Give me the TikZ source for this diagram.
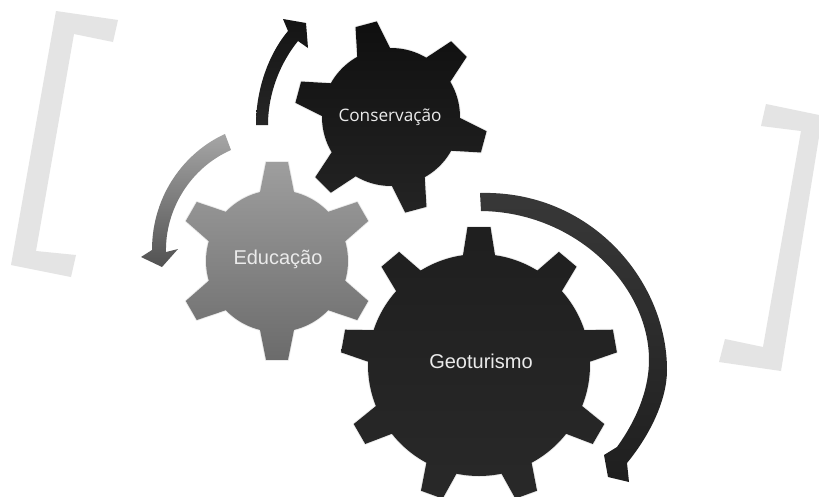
\documentclass[tikz,border=0pt]{standalone}
\usepackage{fontspec}
\setmainfont{Liberation Sans}
\newfontfamily\consfont{Open Sans}
\newcommand{\gearshape}[9]{%
  \pgfmathsetmacro\stp{360/#9}%
  \pgfmathsetmacro\ba{asin(#6/#4)}%
  \pgfmathsetmacro\ta{atan(#7/#5)}%
  \pgfmathsetmacro\tr{veclen(#5,#7)}%
  \begin{scope}[shift={(#2,#3)}]
    \path[#1] ({#8-\ba}:#4)
    \foreach \k [evaluate=\k as \a using #8+(\k-1)*\stp] in {1,...,#9} {
      -- ({\a-\ta}:\tr) -- ({\a+\ta}:\tr) -- ({\a+\ba}:#4)
      \foreach \j in {1,...,10} { -- ({\a+\ba+\j/10*(\stp-2*\ba)}:#4) }
    } -- cycle;
  \end{scope}}
\tikzset{
  halo/.style={preaction={draw=black,draw opacity=.08,line width=1.4pt,line join=round}},
  geardark/.style={halo,top color=black!88,bottom color=black!84},
  gearcons/.style={halo,top color=black!94,bottom color=black!86},
  gearedu/.style={halo,top color=black!38,bottom color=black!58},
  bandlight/.style={top color=black!35,bottom color=black!68},
  bandblack/.style={top color=black!92,bottom color=black!85},
  banddark/.style={top color=black!78,bottom color=black!88},
  bracket/.style={fill=black!10.5},
  gearlabel/.style={text=black!8,inner sep=0pt}
}
\begin{document}
\begin{tikzpicture}[x=0.75pt,y=-0.75pt]
\useasboundingbox (0,0) rectangle (819,497);
\fill[white] (0,0) rectangle (819,497);
% brackets
\fill[bracket] (56,11) -- (118,20) -- (113,42) -- (74,34) -- (36,251) -- (76,255) -- (71,277) -- (11,265) -- cycle;
\fill[bracket] (766,104) -- (819,115) -- (819,137) -- (781,371) -- (719,362) -- (725,339) -- (763,347) -- (801,131) -- (761,126) -- cycle;
% gears
\gearshape{gearcons}{391}{117}{69}{96}{17}{11}{255}{6}
\gearshape{gearedu}{277}{261}{71}{99}{17}{11}{270}{6}
\gearshape{geardark}{479}{365}{111}{138}{16}{11.5}{270}{9}
% circular arrows
\path[bandblack] (256,125) .. controls (256,90) and (268,55) .. (288,31) -- (283,19) -- (306,23) -- (308,48) -- (298,41) .. controls (281,62) and (268,92) .. (268,125) -- cycle;
\path[bandlight] (225,134) .. controls (185,152) and (152,195) .. (152,250) -- (141,257) -- (162,267) -- (178,249) -- (166,252) .. controls (165,210) and (190,168) .. (231,150) -- cycle;
\path[banddark] (480,193) .. controls (590,190) and (667,280) .. (667,370) .. controls (667,400) and (650,435) .. (627,463) -- (629,482) -- (608,477) -- (604,455) -- (617,447) .. controls (640,415) and (649,385) .. (649,360) .. controls (649,285) and (575,212) .. (481,211) -- cycle;
% labels
\node[gearlabel,font=\consfont\fontsize{12.9pt}{15pt}\selectfont] (cons) at (390,117) {Conservação};
\node[gearlabel,font=\fontsize{15pt}{17pt}\selectfont] (edu) at (278,259) {Educação};
\node[gearlabel,font=\fontsize{15pt}{17pt}\selectfont] (geo) at (481,361) {Geoturismo};
\end{tikzpicture}
\end{document}
